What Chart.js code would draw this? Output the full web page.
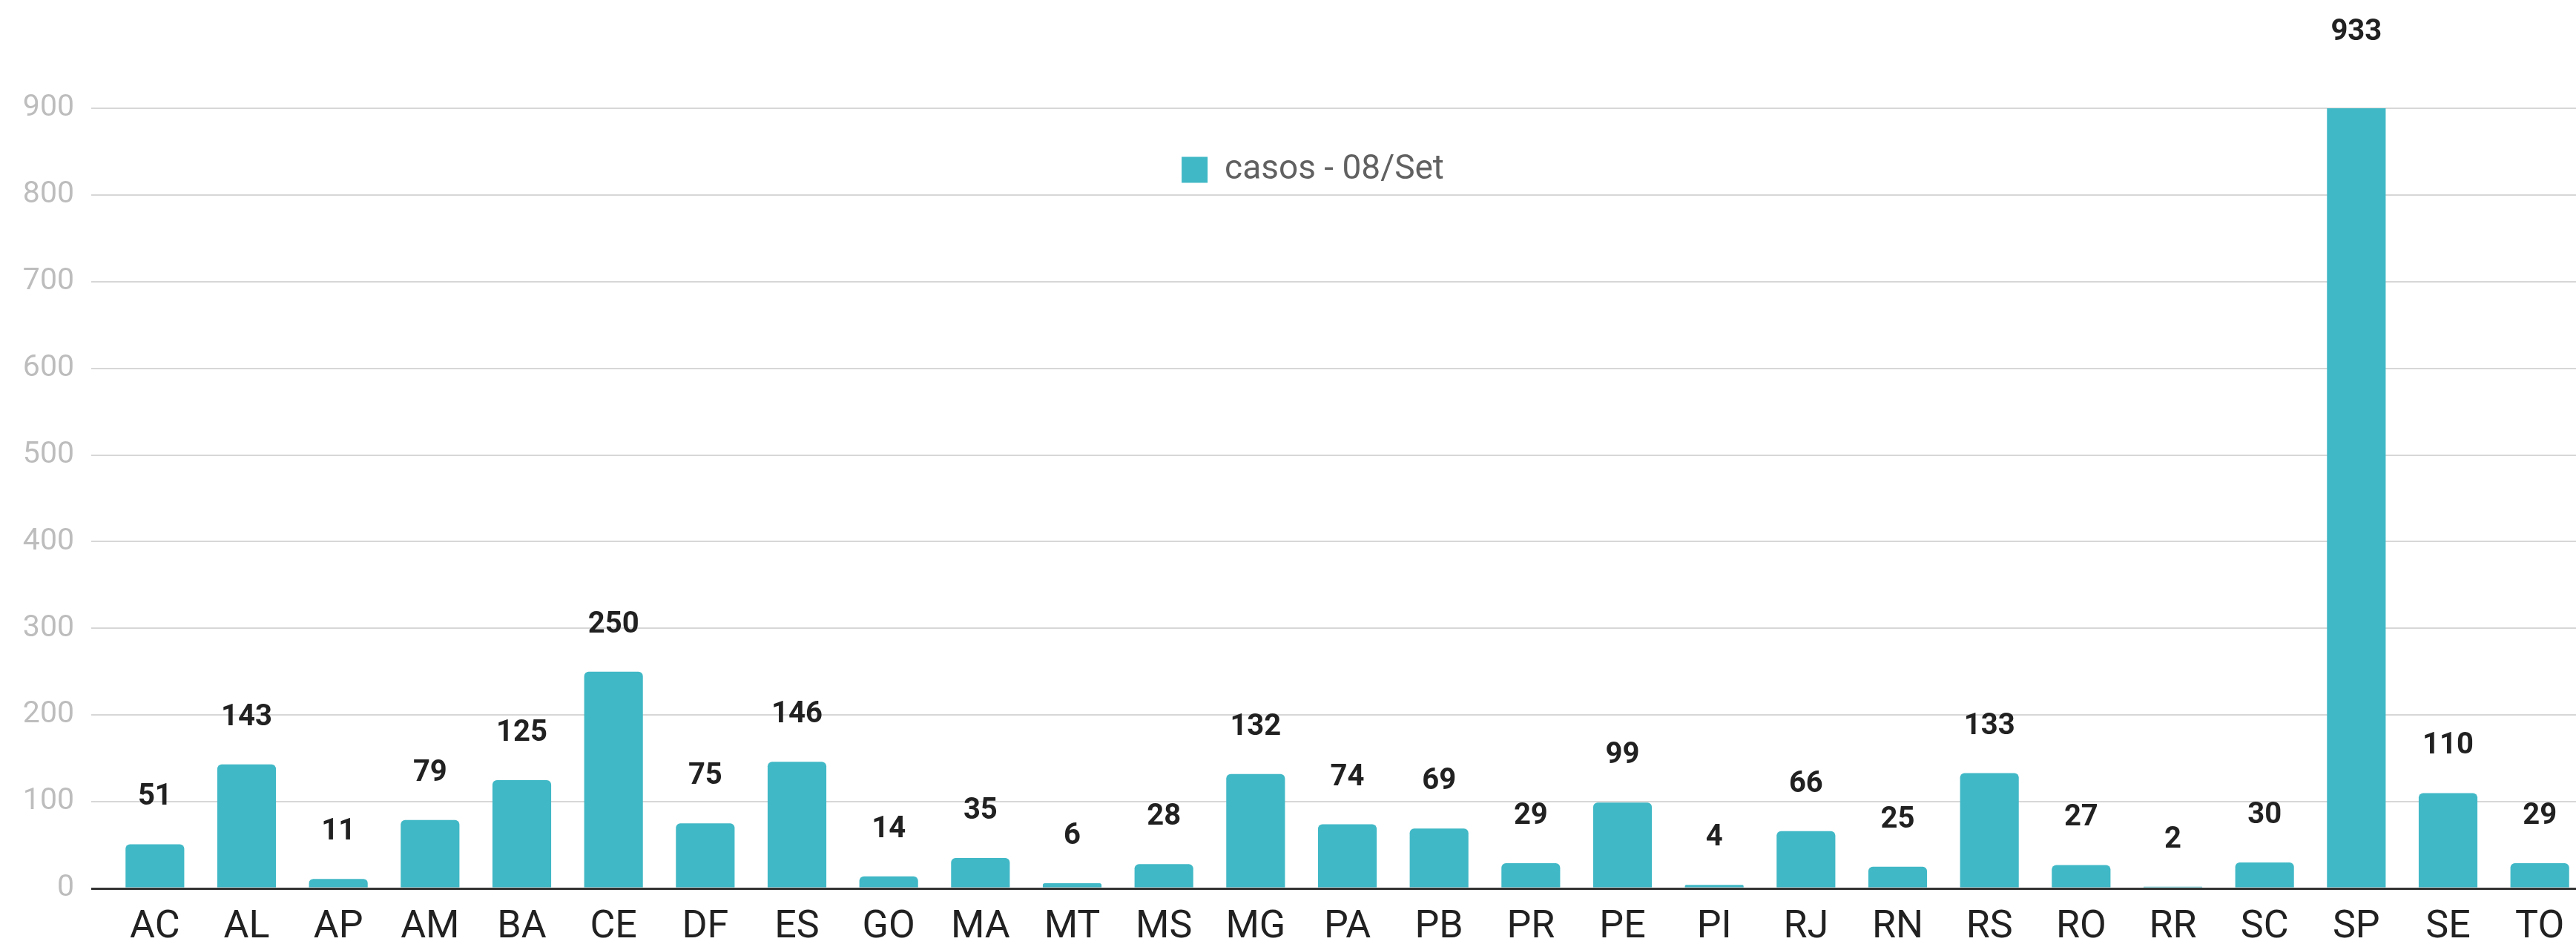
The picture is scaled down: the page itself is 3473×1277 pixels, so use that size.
<!DOCTYPE html>
<html>
<head>
<meta charset="utf-8">
<script src="https://cdn.jsdelivr.net/npm/chart.js@4.4.1/dist/chart.umd.min.js"></script>
<style>
  html, body { margin: 0; padding: 0; background: #fff; overflow: hidden; }
  /* o gráfico original está cortado um pouco à direita */
  #wrap { width: 3486px; height: 1277px; position: relative; }
</style>
</head>
<body>
<div id="wrap"><canvas id="casosChart"></canvas></div>
<script>
// dados do gráfico
const estados = ['AC', 'AL', 'AP', 'AM', 'BA', 'CE', 'DF', 'ES', 'GO', 'MA', 'MT', 'MS', 'MG', 'PA',
                 'PB', 'PR', 'PE', 'PI', 'RJ', 'RN', 'RS', 'RO', 'RR', 'SC', 'SP', 'SE', 'TO'];
const casos = [51, 143, 11, 79, 125, 250, 75, 146, 14, 35, 6, 28, 132, 74,
               69, 29, 99, 4, 66, 25, 133, 27, 2, 30, 933, 110, 29];
const serieLabel = 'casos - 08/Set';
const yTicks = [0, 100, 200, 300, 400, 500, 600, 700, 800, 900];

const corBarra = '#41b8c5';

// rótulos de valor acima das barras
const valueLabels = {
    id: 'valueLabels',
    afterDatasetsDraw(chart) {
        const ctx = chart.ctx;
        const meta = chart.getDatasetMeta(0);
        const yScale = chart.scales.y;
        ctx.save();
        ctx.font = 'bold 40px Roboto';
        ctx.fillStyle = '#212121';
        ctx.textAlign = 'center';
        ctx.textBaseline = 'alphabetic';
        meta.data.forEach((bar, i) => {
            const y = yScale.getPixelForValue(casos[i]) - 53;
            ctx.fillText(String(casos[i]), bar.x, y);
        });
        ctx.restore();
    }
};

// legenda dentro da área do gráfico
const legendInside = {
    id: 'legendInside',
    afterLayout(chart) {
        const lg = chart.legend;
        if (!lg) return;
        const h = lg.height;
        lg.top = chart.chartArea.top + 50;
        lg.bottom = lg.top + h;
        lg.left += 27;
        lg.right += 27;
    }
};

const ctx = document.getElementById('casosChart').getContext('2d');
const chart = new Chart(ctx, {
    type: 'bar',
    data: {
        labels: estados,
        datasets: [{
            label: serieLabel,
            data: casos,
            backgroundColor: corBarra,
            borderWidth: 0,
            borderRadius: { topLeft: 6, topRight: 6, bottomLeft: 0, bottomRight: 0 },
            borderSkipped: 'bottom',
            barPercentage: 0.8,
            categoryPercentage: 0.8
        }]
    },
    options: {
        responsive: true,
        maintainAspectRatio: false,
        animation: false,
        devicePixelRatio: 1,
        layout: { padding: { top: 86, right: 0, left: 0, bottom: 0 } },
        scales: {
            x: {
                grid: { display: false, drawTicks: false },
                border: { display: false },
                ticks: {
                    color: '#212121',
                    font: { family: 'Roboto', size: 52 },
                    padding: 22,
                    autoSkip: false,
                    maxRotation: 0
                },
                afterFit(scale) { scale.height = 79; }
            },
            y: {
                min: 0,
                max: 900,
                afterBuildTicks(scale) {
                    scale.ticks = yTicks.map(v => ({ value: v }));
                },
                grid: {
                    color: c => (c.tick && c.tick.value === 0) ? '#333333' : '#d7d7d7',
                    lineWidth: c => (c.tick && c.tick.value === 0) ? 3 : 2,
                    drawTicks: true,
                    tickLength: 24
                },
                border: { display: false },
                ticks: {
                    color: '#bdbdbd',
                    font: { family: 'Roboto', size: 41 },
                    padding: 23
                },
                afterFit(scale) { scale.width = 147; }
            }
        },
        plugins: {
            legend: {
                display: true,
                position: 'top',
                maxHeight: 60,
                labels: {
                    color: '#616161',
                    font: { family: 'Roboto', size: 46 },
                    boxWidth: 35,
                    boxHeight: 35,
                    padding: 10
                }
            },
            tooltip: { enabled: false }
        }
    },
    plugins: [valueLabels, legendInside]
});
</script>
</body>
</html>
